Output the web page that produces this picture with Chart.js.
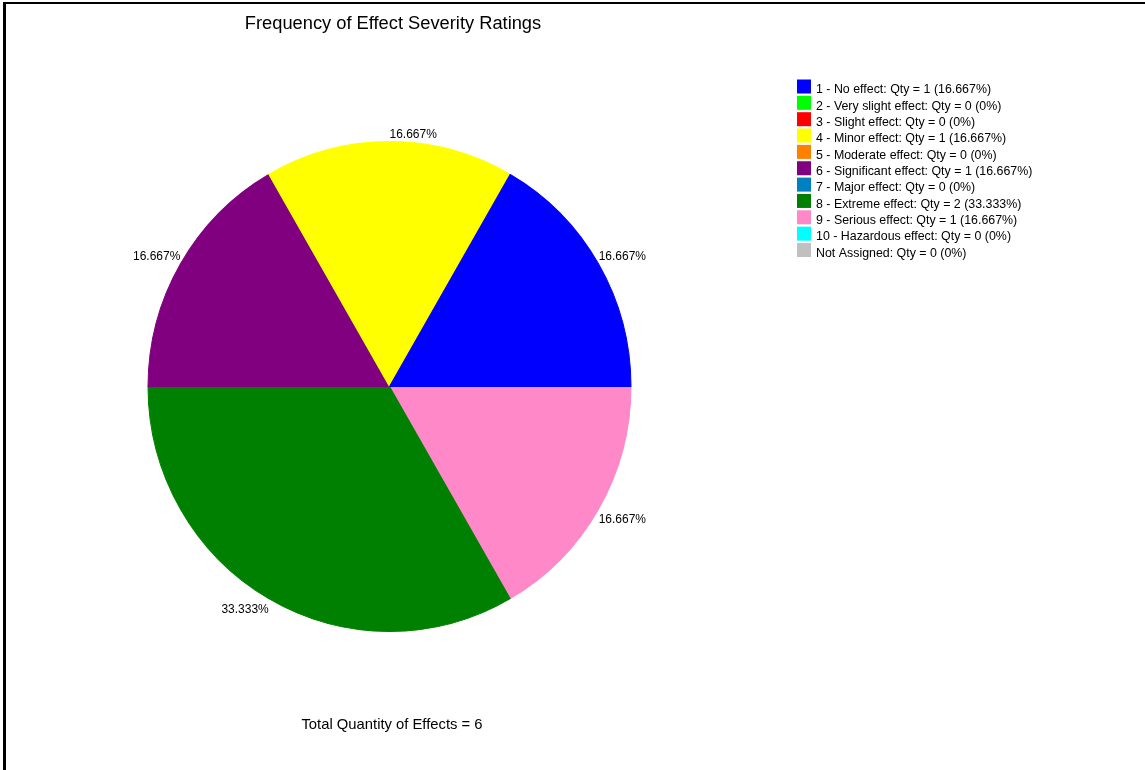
<!DOCTYPE html>
<html>
<head>
<meta charset="utf-8">
<script src="https://cdn.jsdelivr.net/npm/chart.js@4.4.1/dist/chart.umd.min.js"></script>
<style>
  html, body { margin: 0; padding: 0; background: #fff; overflow: hidden; }
  #wrap { position: relative; width: 1145px; height: 770px; }
  #frame { position: absolute; left: 3px; top: 2px; width: 1200px; height: 800px;
           border-left: 3px solid #000; border-top: 2px solid #000; box-sizing: border-box; pointer-events: none; }
  canvas { position: absolute; left: 0; top: 0; }
</style>
</head>
<body>
<div id="wrap">
  <canvas id="pie" width="1145" height="770"></canvas>
  <div id="frame"></div>
</div>
<script>
// Severity rating categories, in rating order
const categories = [
  '1 - No effect',
  '2 - Very slight effect',
  '3 - Slight effect',
  '4 - Minor effect',
  '5 - Moderate effect',
  '6 - Significant effect',
  '7 - Major effect',
  '8 - Extreme effect',
  '9 - Serious effect',
  '10 - Hazardous effect',
  'Not Assigned'
];
// Number of effects in each rating
const quantities = [1, 0, 0, 1, 0, 1, 0, 2, 1, 0, 0];
// Slice / legend colours per rating
const colors = [
  '#0000FF', '#00FF00', '#FF0000', '#FFFF00', '#FF8000', '#800080',
  '#0080C0', '#008000', '#FF88C8', '#00FFFF', '#C0C0C0'
];
const chartTitle = 'Frequency of Effect Severity Ratings';

const total = quantities.reduce((a, b) => a + b, 0);
const pct = q => parseFloat((q / total * 100).toFixed(3)).toString();

// Slices run counter-clockwise from 3 o'clock; Chart.js sweeps clockwise,
// so feed the data in reverse order.
const order = categories.map((_, i) => i).reverse();

// The pie is drawn slightly taller than wide
const STRETCH_Y = 1.0145;

const stretch = {
  id: 'stretch',
  beforeDatasetsDraw(chart) {
    const a = chart.chartArea;
    const cy = (a.top + a.bottom) / 2;
    chart.ctx.save();
    chart.ctx.translate(0, cy);
    chart.ctx.scale(1, STRETCH_Y);
    chart.ctx.translate(0, -cy);
  },
  afterDatasetsDraw(chart) {
    chart.ctx.restore();
  }
};

const overlay = {
  id: 'overlay',
  afterDraw(chart) {
    const ctx = chart.ctx;
    ctx.save();
    ctx.fillStyle = '#000';

    // Title
    ctx.font = '18.3px "Liberation Sans", Arial, sans-serif';
    ctx.textAlign = 'center';
    ctx.textBaseline = 'alphabetic';
    ctx.fillText(chartTitle, 393, 28.5);

    // Footer
    ctx.font = '14.8px "Liberation Sans", Arial, sans-serif';
    ctx.fillText('Total Quantity of Effects = ' + total, 392, 729);

    // Percentage labels at the rim of each non-empty slice
    ctx.font = '12px "Liberation Sans", Arial, sans-serif';
    const meta = chart.getDatasetMeta(0);
    meta.data.forEach((arc, i) => {
      const idx = order[i];
      const q = quantities[idx];
      if (!q) return;
      const p = arc.getProps(['x', 'y', 'startAngle', 'endAngle', 'outerRadius'], true);
      const mid = (p.startAngle + p.endAngle) / 2;
      const ax = p.x + Math.cos(mid) * p.outerRadius;
      const ay = p.y + Math.sin(mid) * p.outerRadius * STRETCH_Y;
      ctx.textAlign = Math.cos(mid) >= -0.01 ? 'left' : 'right';
      const upper = Math.sin(mid) < 0;
      ctx.fillText(pct(q) + '%', ax, upper ? ay - 3.5 : ay + 14);
    });

    // Legend
    ctx.textAlign = 'left';
    ctx.font = '12.4px "Liberation Sans", Arial, sans-serif';
    categories.forEach((name, i) => {
      const top = 79.5 + i * 16.35;
      ctx.fillStyle = colors[i];
      ctx.fillRect(797, top, 14, 14);
      ctx.fillStyle = '#000';
      ctx.fillText(name + ': Qty = ' + quantities[i] + ' (' + pct(quantities[i]) + '%)', 816, top + 13.8);
    });
    ctx.restore();
  }
};

new Chart(document.getElementById('pie'), {
  type: 'pie',
  data: {
    labels: order.map(i => categories[i]),
    datasets: [{
      data: order.map(i => quantities[i]),
      backgroundColor: order.map(i => colors[i]),
      // a same-colour hairline closes the antialiasing seams between slices
      borderColor: order.map(i => colors[i]),
      borderWidth: order.map(i => (quantities[i] ? 1 : 0))
    }]
  },
  options: {
    responsive: false,
    animation: false,
    devicePixelRatio: 1,
    rotation: 90,
    layout: { padding: { left: 147.5, right: 513.5, top: 144.5, bottom: 141.5 } },
    plugins: {
      legend: { display: false },
      title: { display: false },
      tooltip: { enabled: false }
    }
  },
  plugins: [stretch, overlay]
});
</script>
</body>
</html>
